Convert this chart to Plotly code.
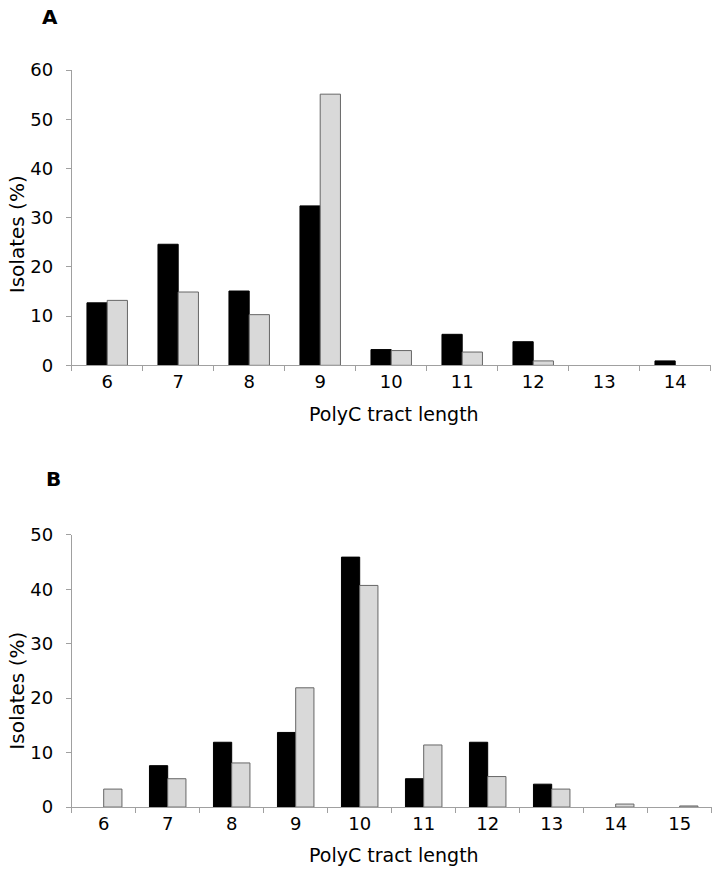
import plotly.graph_objects as go

# Panel A data
cats_a = ["6", "7", "8", "9", "10", "11", "12", "13", "14"]
black_a = [12.7, 24.6, 15.1, 32.4, 3.2, 6.3, 4.8, 0, 0.9]
gray_a = [13.2, 14.9, 10.3, 55.1, 3.0, 2.7, 0.9, 0, 0]

# Panel B data
cats_b = ["6", "7", "8", "9", "10", "11", "12", "13", "14", "15"]
black_b = [0, 7.6, 11.9, 13.7, 45.9, 5.2, 11.9, 4.2, 0, 0]
gray_b = [3.3, 5.2, 8.1, 21.9, 40.7, 11.4, 5.6, 3.3, 0.55, 0.2]

W, H = 717, 872
FONT = "DejaVu Sans"
AX = "#a0a0a0"
GRAY_LINE = "#666666"


def lw(vals):
    return [1 if v > 0 else 0 for v in vals]


fig = go.Figure()
fig.add_trace(go.Bar(x=cats_a, y=black_a, marker=dict(color="#000000", line=dict(color="#000000", width=lw(black_a))),
                     xaxis="x", yaxis="y", showlegend=False))
fig.add_trace(go.Bar(x=cats_a, y=gray_a, marker=dict(color="#d9d9d9", line=dict(color=GRAY_LINE, width=lw(gray_a))),
                     xaxis="x", yaxis="y", showlegend=False))
fig.add_trace(go.Bar(x=cats_b, y=black_b, marker=dict(color="#000000", line=dict(color="#000000", width=lw(black_b))),
                     xaxis="x2", yaxis="y2", showlegend=False))
fig.add_trace(go.Bar(x=cats_b, y=gray_b, marker=dict(color="#d9d9d9", line=dict(color=GRAY_LINE, width=lw(gray_b))),
                     xaxis="x2", yaxis="y2", showlegend=False))

# empirical vertical calibration of the rendered page
OFF, SC = 11.0, 0.975


def px_x(p):
    return p / W


def px_y(p):
    return 1 - ((p - OFF) / SC) / H


xcommon = dict(type="category", tickson="boundaries", ticks="outside", ticklen=5, tickcolor=AX,
               showline=True, linecolor=AX, linewidth=1, showgrid=False, zeroline=False,
               tickfont=dict(family=FONT, size=18, color="#000"), fixedrange=True)
ycommon = dict(ticks="outside", ticklen=5, tickcolor=AX, showline=True, linecolor=AX, linewidth=1,
               showgrid=False, zeroline=False, tickfont=dict(family=FONT, size=18, color="#000"),
               ticklabelstandoff=9, fixedrange=True)

fig.update_layout(
    width=W, height=H, margin=dict(l=0, r=0, t=0, b=0),
    paper_bgcolor="white", plot_bgcolor="white",
    barmode="group", bargap=0.43, bargroupgap=0,
    xaxis=dict(domain=[px_x(71.7), px_x(710.7)], anchor="y", range=[-0.5, 8.5], **xcommon),
    yaxis=dict(domain=[px_y(365), px_y(70)], anchor="x", range=[0, 60], dtick=10, **ycommon),
    xaxis2=dict(domain=[px_x(71.7), px_x(711.7)], anchor="y2", range=[-0.5, 9.5], **xcommon),
    yaxis2=dict(domain=[px_y(806.3), px_y(534.3)], anchor="x2", range=[0, 50], dtick=10, **ycommon),
)

tfont = dict(family=FONT, size=19, color="#000")
yfont = dict(family=FONT, size=20, color="#000")
ann = [
    dict(text="<b>A</b>", x=px_x(50), y=px_y(17), font=dict(family=FONT, size=20, color="#000")),
    dict(text="<b>B</b>", x=px_x(53), y=px_y(479), font=dict(family=FONT, size=20, color="#000")),
    dict(text="PolyC tract length", x=px_x(394), y=px_y(414), font=tfont),
    dict(text="PolyC tract length", x=px_x(394), y=px_y(854), font=tfont),
    dict(text="Isolates (%)", x=px_x(17), y=px_y(234), font=yfont, textangle=-90),
    dict(text="Isolates (%)", x=px_x(17), y=px_y(690), font=yfont, textangle=-90),
]
for a in ann:
    fig.add_annotation(xref="paper", yref="paper", showarrow=False, xanchor="center", yanchor="middle", **a)

fig.write_html(
    "out.html",
    default_width=W,
    default_height=H,
    config={"responsive": False, "displayModeBar": False},
    post_script="document.body.style.margin='0';document.body.style.padding='0';document.body.style.overflow='hidden';",
)
